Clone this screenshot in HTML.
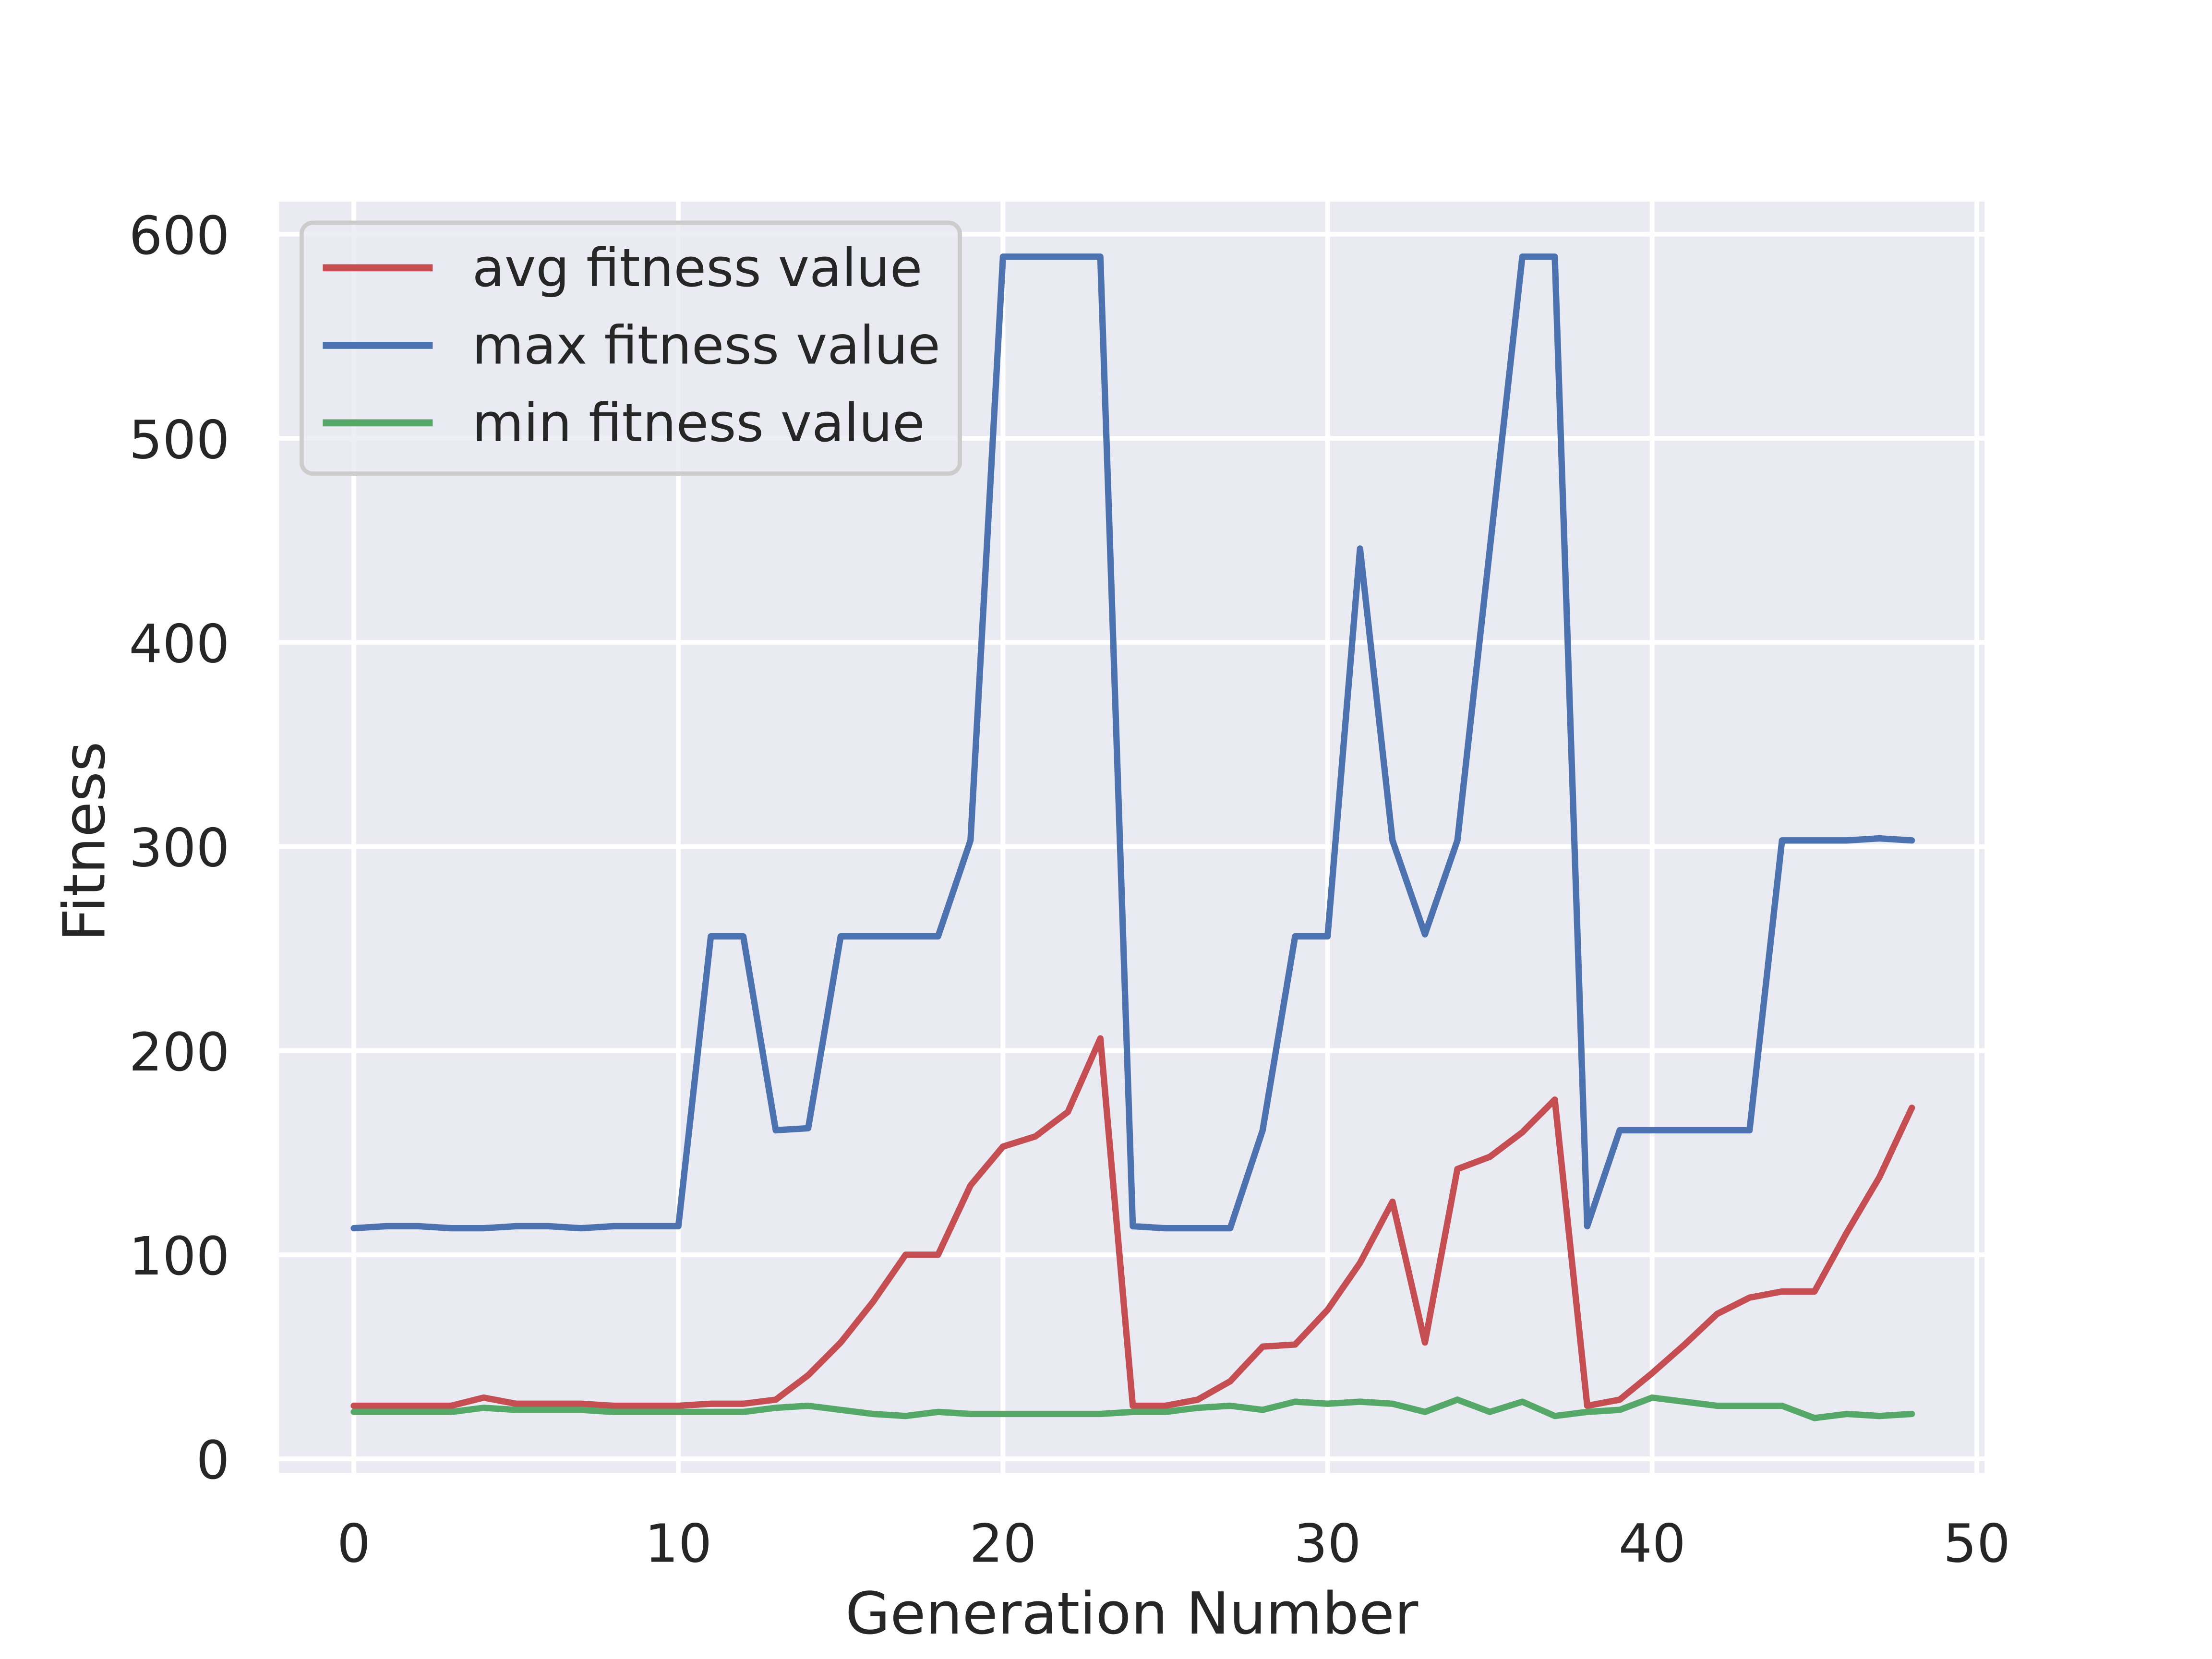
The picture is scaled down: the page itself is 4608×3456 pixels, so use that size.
<!DOCTYPE html>
<html><head><meta charset="utf-8"><style>html,body{margin:0;padding:0;background:#fff}svg{display:block}text{font-family:"DejaVu Sans","Liberation Sans",sans-serif;fill:#262626}</style></head>
<body>
<svg id="chart" width="4608" height="3456" viewBox="0 0 1569.4 1177" preserveAspectRatio="none" xmlns="http://www.w3.org/2000/svg">
<rect x="198" y="143" width="1210" height="902" fill="#eaeaf2"/>
<g id="grid"></g><g id="ticks"></g><g id="series"></g>
<text x="803" y="1159" font-size="41" text-anchor="middle">Generation Number</text>
<text transform="translate(74,597) rotate(-90)" font-size="41" text-anchor="middle">Fitness</text>
<g>
<rect x="214" y="158" width="467" height="178" rx="8" fill="#eaeaf2" fill-opacity="0.8" stroke="#cccccc" stroke-width="3"/>
<line x1="229" y1="190" x2="307" y2="190" stroke="#c44e52" stroke-width="5"/>
<text x="335" y="203" font-size="37.5">avg fitness value</text>
<line x1="229" y1="245" x2="307" y2="245" stroke="#4c72b0" stroke-width="5"/>
<text x="335" y="258" font-size="37.5">max fitness value</text>
<line x1="229" y1="300" x2="307" y2="300" stroke="#55a868" stroke-width="5"/>
<text x="335" y="313" font-size="37.5">min fitness value</text>
</g>
</svg>
<script>
const xTicks=[0,10,20,30,40,50];
const yTicks=[0,100,200,300,400,500,600];
const avgValues=[26,26,26,26,30,27,27,27,26,26,26,27,27,29,41,57,77,100,100,134,153,158,170,206,26,26,29,38,55,56,73,96,126,57,142,148,160,176,26,29,42,56,71,79,82,82,111,138,172];
const maxValues=[113,114,114,113,113,114,114,113,114,114,114,256,256,161,162,256,256,256,256,303,589,589,589,589,114,113,113,113,161,256,256,446,303,257,303,446,589,589,114,161,161,161,161,161,303,303,303,304,303];
const minValues=[23,23,23,23,25,24,24,24,23,23,23,23,23,25,26,24,22,21,23,22,22,22,22,22,23,23,25,26,24,28,27,28,27,23,29,23,28,21,23,24,30,28,26,26,26,20,22,21,22];
const NS='http://www.w3.org/2000/svg';
const xs=v=>251+v*23.03;
const ys=v=>1035-v*1.448;
const grid=document.getElementById('grid'),ticks=document.getElementById('ticks'),ser=document.getElementById('series');
function mk(tag,attrs,parent){const e=document.createElementNS(NS,tag);for(const k in attrs)e.setAttribute(k,attrs[k]);parent.appendChild(e);return e;}
xTicks.forEach(t=>{
 const l=mk('line',{x1:xs(t),x2:xs(t),y1:143,y2:1045,stroke:'#fff','stroke-width':3.4},grid);
 
 
 const tx=mk('text',{x:xs(t),y:1108,'font-size':37.5,'text-anchor':'middle'},ticks);
 
 
 tx.textContent=t;
});
yTicks.forEach(t=>{
 const l=mk('line',{x1:198,x2:1408,y1:ys(t),y2:ys(t),stroke:'#fff','stroke-width':3.4},grid);
 
 
 const tx=mk('text',{x:163,y:ys(t)+14,'font-size':37.5,'text-anchor':'end'},ticks);
 
 
 tx.textContent=t;
});
function line(vals,color,name){
 const p=mk('polyline',{points:vals.map((v,i)=>xs(i)+','+ys(v)).join(' '),fill:'none',stroke:color,'stroke-width':4.5,'stroke-linejoin':'round','stroke-linecap':'round'},ser);
 
 
}
line(avgValues,'#c44e52','avg-fitness-line');
line(maxValues,'#4c72b0','max-fitness-line');
line(minValues,'#55a868','min-fitness-line');
</script>
</body></html>
